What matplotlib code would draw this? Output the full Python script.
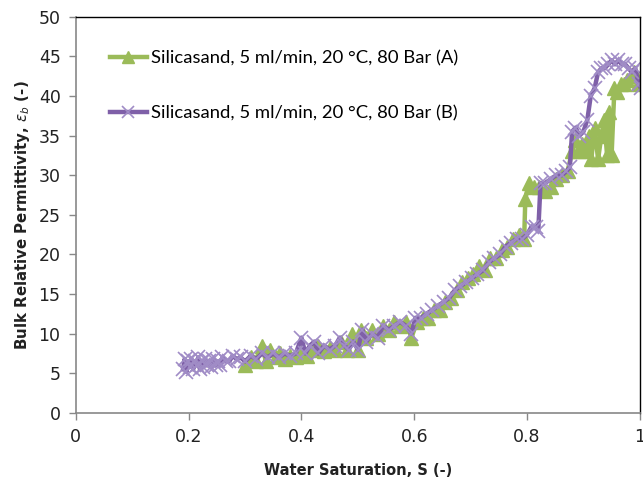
import matplotlib.pyplot as plt

# Series A (green, triangles)
s_a = [0.300, 0.310, 0.320, 0.330, 0.337, 0.345, 0.355, 0.362, 0.370, 0.380, 0.390,
       0.400, 0.410, 0.420, 0.430, 0.440, 0.450, 0.460, 0.470, 0.480, 0.490, 0.500,
       0.505, 0.515, 0.525, 0.535, 0.545, 0.555, 0.565, 0.575, 0.585, 0.595, 0.605,
       0.615, 0.625, 0.635, 0.645, 0.655, 0.665, 0.675, 0.685, 0.695, 0.705, 0.715,
       0.725, 0.735, 0.745, 0.755, 0.765, 0.775, 0.785, 0.795, 0.797, 0.803, 0.812,
       0.822, 0.832, 0.842, 0.852, 0.862, 0.872, 0.880, 0.886, 0.892, 0.898, 0.904,
       0.910, 0.914, 0.920, 0.926, 0.932, 0.937, 0.942, 0.946, 0.950, 0.955, 0.960,
       0.966, 0.972, 0.978, 0.984, 0.990, 0.996, 1.002]
eps_a = [6.0, 7.0, 6.5, 8.5, 6.5, 8.0, 7.0, 7.5, 6.8, 7.2, 7.0,
         7.5, 7.2, 8.0, 8.5, 7.8, 8.2, 8.0, 9.0, 8.0, 10.0, 8.0,
         10.5, 9.5, 10.5, 10.0, 11.0, 10.5, 11.5, 11.0, 11.5, 9.5, 11.5,
         12.0, 12.0, 13.0, 13.0, 14.0, 14.5, 15.5, 16.5, 17.0, 17.5, 18.5,
         18.0, 19.5, 19.5, 20.5, 21.0, 22.0, 22.5, 22.0, 27.0, 29.0, 28.5,
         28.5, 28.0, 28.5, 29.5, 30.0, 30.5, 33.0, 34.5, 33.0, 34.0, 33.0,
         35.0, 32.0, 36.0, 32.0, 35.0, 37.0, 32.5, 38.0, 32.5, 41.0, 40.5,
         41.5, 41.5, 42.0, 42.5, 43.0, 41.5, 42.0]

# Series B (purple, x markers)
s_b = [0.190, 0.193, 0.196, 0.199, 0.202, 0.205, 0.208, 0.211, 0.214, 0.217, 0.220,
       0.223, 0.226, 0.229, 0.232, 0.236, 0.240, 0.244, 0.248, 0.252, 0.256, 0.260,
       0.266, 0.272, 0.278, 0.285, 0.292, 0.300, 0.310, 0.320, 0.330, 0.340, 0.350,
       0.360, 0.370, 0.380, 0.390, 0.400, 0.407, 0.415, 0.423, 0.430, 0.440, 0.450,
       0.460, 0.468, 0.476, 0.484, 0.492, 0.500, 0.508, 0.515, 0.525, 0.535, 0.545,
       0.555, 0.565, 0.575, 0.585, 0.595, 0.602, 0.612, 0.622, 0.632, 0.642, 0.652,
       0.662, 0.672, 0.682, 0.692, 0.702, 0.712, 0.722, 0.732, 0.742, 0.752, 0.762,
       0.772, 0.782, 0.792, 0.800, 0.808, 0.816, 0.820, 0.824, 0.832, 0.842, 0.852,
       0.862, 0.870, 0.876, 0.880, 0.886, 0.893, 0.900, 0.907, 0.913, 0.920, 0.926,
       0.932, 0.938, 0.944, 0.950, 0.956, 0.962, 0.968, 0.974, 0.980, 0.986, 0.992,
       0.998, 1.002]
eps_b = [5.5, 6.8, 5.2, 6.5, 5.8, 6.8, 5.5, 6.5, 6.0, 7.0, 5.5,
         6.5, 5.8, 6.8, 6.0, 6.5, 5.8, 6.8, 6.0, 6.5, 6.0, 7.0,
         6.5, 6.5, 7.2, 6.8, 7.0, 6.5, 7.2, 6.8, 7.5, 7.0, 7.5,
         7.0, 7.5, 7.2, 7.5, 9.5, 7.5, 8.5, 9.0, 7.5, 8.5, 8.0,
         8.5, 9.5, 8.5, 8.0, 9.0, 8.0, 10.5, 9.0, 10.0, 9.5, 11.0,
         10.5, 11.0, 11.5, 11.0, 10.0, 12.0, 12.0, 12.5, 13.0, 13.5, 14.0,
         14.5, 15.5, 16.0, 16.5, 17.0, 17.5, 18.0, 19.0, 19.5, 20.0, 21.0,
         21.5, 22.0, 22.0, 22.5, 23.5, 23.5, 23.0, 29.0, 29.0, 29.5, 30.0,
         30.0, 30.5, 31.0, 35.5, 36.0, 35.0, 35.5, 37.0, 40.0, 41.0, 43.0,
         43.5, 43.5, 44.0, 44.5, 44.0, 44.5, 44.0, 44.0, 43.5, 43.0, 43.5,
         41.5, 41.0]

fig = plt.figure(figsize=(6.43, 4.79), dpi=100)
ax = fig.add_axes([0.118, 0.138, 0.877, 0.827])

green = '#9BBB59'
purple = '#7F60A8'

ax.plot(s_a, eps_a, color=green, lw=3.2, marker='^', ms=9.5, mec=green, mfc=green,
        label='Silicasand, 5 ml/min, 20 \u00b0C, 80 Bar (A)')
ax.plot(s_b, eps_b, color=purple, lw=3.2, marker='x', ms=10, mew=1.2, mec='#A08CC6',
        label='Silicasand, 5 ml/min, 20 \u00b0C, 80 Bar (B)')

ax.set_xlim(0, 1)
ax.set_ylim(0, 50)
ax.set_xticks([0, 0.2, 0.4, 0.6, 0.8, 1])
ax.set_xticklabels(['0', '0.2', '0.4', '0.6', '0.8', '1'])
ax.set_yticks(range(0, 51, 5))

for side in ['left', 'bottom']:
    ax.spines[side].set_color('#888888')
    ax.spines[side].set_linewidth(1.2)
for side in ['top', 'right']:
    ax.spines[side].set_color('black')
    ax.spines[side].set_linewidth(1.0)

ax.tick_params(axis='both', direction='out', length=5, width=1, color='#888888',
               labelsize=12.5, labelcolor='#222222', pad=6)

ax.set_xlabel('Water Saturation, S (-)', fontsize=10.5, fontweight='bold',
              color='#222222', labelpad=12)
ax.set_ylabel('Bulk Relative Permittivity, $\\epsilon_b$ (-)', fontsize=10.8,
              fontweight='bold', color='#222222', labelpad=5)

leg = ax.legend(loc='upper left', bbox_to_anchor=(0.060, 0.915), frameon=False,
                prop={'family': 'Lato', 'size': 13.3}, handlelength=2.0,
                handletextpad=0.25, labelspacing=2.1, borderpad=0,
                borderaxespad=0, markerscale=0.85)

fig.savefig('out.png', dpi=100)
